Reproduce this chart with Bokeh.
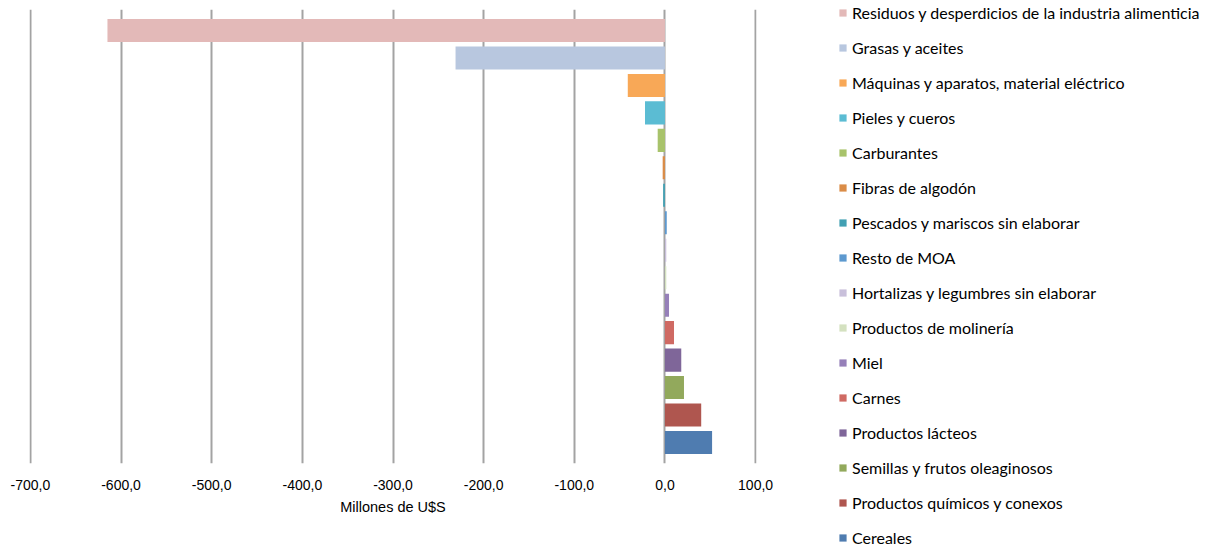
from bokeh.plotting import figure
from bokeh.models import (ColumnDataSource, FactorRange, Range1d, FixedTicker,
                          CustomJSTickFormatter, Legend, LegendItem)
from bokeh.embed import file_html
from bokeh.resources import INLINE

categories = [
    "Residuos y desperdicios de la industria alimenticia",
    "Grasas y aceites",
    "Máquinas y aparatos, material eléctrico",
    "Pieles y cueros",
    "Carburantes",
    "Fibras de algodón",
    "Pescados y mariscos sin elaborar",
    "Resto de MOA",
    "Hortalizas y legumbres sin elaborar",
    "Productos de molinería",
    "Miel",
    "Carnes",
    "Productos lácteos",
    "Semillas y frutos oleaginosos",
    "Productos químicos y conexos",
    "Cereales",
]
values = [-615.0, -231.0, -41.0, -22.0, -8.0, -2.5, -2.0, 2.0, 1.5, 1.5,
          4.5, 10.0, 18.0, 21.0, 40.0, 52.0]
colors = ["#E3B9B8", "#B8C7DF", "#F8A857", "#5BBCD3", "#A8C36B", "#DA8C47",
          "#42A0B3", "#5D99CF", "#C9C0DB", "#D4E1C0", "#9680B9", "#CF6A63",
          "#7F6699", "#92A95C", "#AF564F", "#4F7CB0"]
x_ticks = [-700, -600, -500, -400, -300, -200, -100, 0, 100]
x_title = "Millones de U$S"

src = ColumnDataSource(dict(cat=categories, val=values, color=colors))

W, H = 1198, 542
p = figure(width=W, height=H, output_backend="svg", toolbar_location=None,
           y_range=FactorRange(factors=list(reversed(categories)),
                               range_padding=0.033),
           x_range=Range1d(-701, 101),
           frame_width=727, frame_height=454,
           min_border_left=29, min_border_right=0,
           min_border_top=9, min_border_bottom=79)
p.outline_line_color = None
p.background_fill_color = "white"
p.border_fill_color = "white"

r = p.hbar(y="cat", right="val", left=0, height=0.84, color="color",
           line_color=None, source=src)

p.yaxis.visible = False
p.ygrid.grid_line_color = None
p.xgrid.grid_line_color = "#A3A3A3"
p.xgrid.grid_line_width = 2
p.xaxis.ticker = FixedTicker(ticks=x_ticks)
p.xaxis.formatter = CustomJSTickFormatter(
    code="return tick.toFixed(1).replace('.', ',');")
p.xaxis.axis_line_color = None
p.xaxis.major_tick_line_color = None
p.xaxis.minor_tick_line_color = None
p.xaxis.major_label_standoff = 10
p.xaxis.major_label_text_font = "Liberation Sans"
p.xaxis.major_label_text_font_size = "14px"
p.xaxis.major_label_text_color = "#000000"
p.xaxis.axis_label = x_title
p.xaxis.axis_label_text_font = "Liberation Sans"
p.xaxis.axis_label_text_font_size = "14.5px"
p.xaxis.axis_label_text_font_style = "normal"
p.xaxis.axis_label_text_color = "#000000"
p.xaxis.axis_label_standoff = 6

items = [LegendItem(label=c, renderers=[r], index=i) for i, c in enumerate(categories)]
legend = Legend(items=items, location=(82, -84), orientation="vertical",
                label_text_font="Lato", label_text_font_size="16px",
                label_text_color="#000000",
                glyph_width=9, glyph_height=9, label_standoff=5,
                label_height=20, spacing=15, padding=0, margin=0,
                border_line_color=None, background_fill_alpha=0)
p.add_layout(legend, "right")

open("out.html", "w").write(file_html(p, INLINE))
